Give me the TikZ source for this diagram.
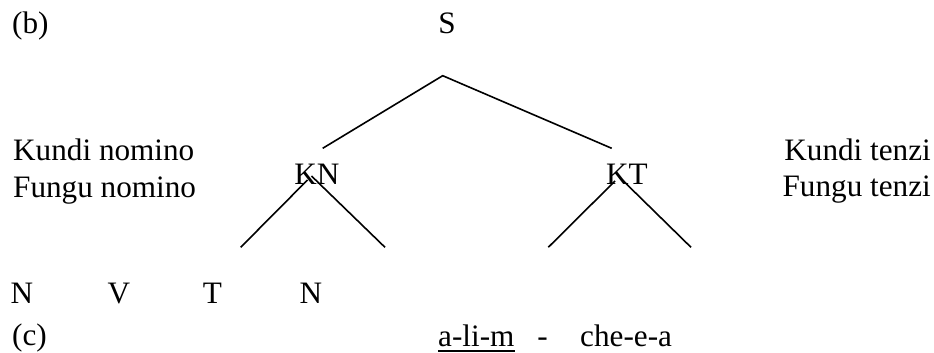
\documentclass[tikz,border=0pt]{standalone}
\usepackage{fontspec}
\setmainfont{Liberation Serif}
\begin{document}
\begin{tikzpicture}[x=1pt,y=-1pt,
  txt/.style={inner sep=0pt,font=\fontsize{31.2}{36}\selectfont},
  lw/.style={anchor=base west},
  le/.style={anchor=base east},
  lc/.style={anchor=base},
  branch/.style={line width=1.6pt}]
\useasboundingbox (0,0) rectangle (934,353);
% labels
\node[txt,lw] (b) at (12,34) {(b)};
\node[txt,lc] (S) at (447,34) {S};
\node[txt,lw] (kn1) at (13,160) {Kundi nomino};
\node[txt,lw] (fn1) at (13,197) {Fungu nomino};
\node[txt,le] (kt1) at (931,160) {Kundi tenzi};
\node[txt,le] (ft1) at (931,196) {Fungu tenzi};
\node[txt,lc] (KN) at (317,184) {KN};
\node[txt,lc] (KT) at (627,184) {KT};
\node[txt,lc] (n1) at (22,303) {N};
\node[txt,lc] (v1) at (119,303) {V};
\node[txt,lc] (t1) at (212.5,303) {T};
\node[txt,lc] (n2) at (311,303) {N};
\node[txt,lw] (c) at (12,345) {(c)};
\node[txt,lw] (alim) at (438,346) {a-li-m};
\node[txt,lc] (dash) at (542.5,346) {-};
\node[txt,lw] (chee) at (580,346) {che-e-a};
% tree coordinates
\coordinate (Sapex) at (442.7,75.7);
\coordinate (KNup) at (322.7,148.3);
\coordinate (KTup) at (611.7,148.3);
\coordinate (KNl) at (307.5,180);
\coordinate (KNr) at (311.5,176);
\coordinate (KNll) at (240.7,247.3);
\coordinate (KNrr) at (385,247.3);
\coordinate (KTl) at (615,181);
\coordinate (KTr) at (619.3,177);
\coordinate (KTll) at (548.3,247.3);
\coordinate (KTrr) at (691,247.3);
% branches
\draw[branch] (KNup) -- (Sapex) -- (KTup);
\draw[branch] (KNll) -- (KNl);
\draw[branch] (KNr) -- (KNrr);
\draw[branch] (KTll) -- (KTl);
\draw[branch] (KTr) -- (KTrr);
% underline
\draw[line width=1.6pt] ([yshift=-5pt]alim.base west) -- ([yshift=-5pt]alim.base east);
\end{tikzpicture}
\end{document}
